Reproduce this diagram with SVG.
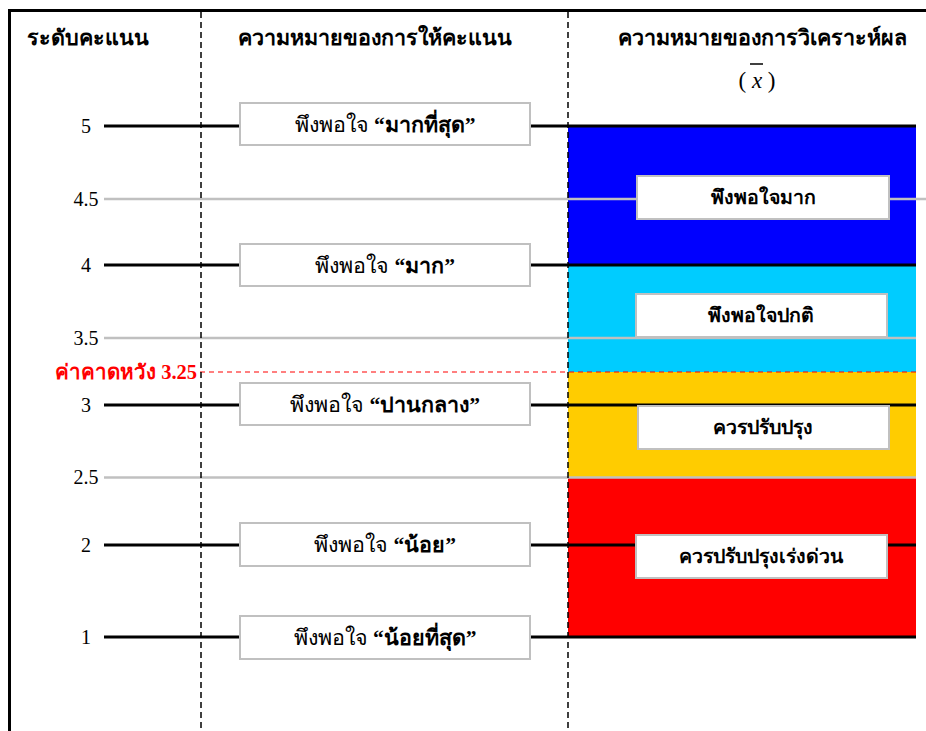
<svg xmlns="http://www.w3.org/2000/svg" width="926" height="731" viewBox="0 0 926 731">
<style>
.hdr{font-family:"Liberation Serif","Noto Sans",serif;font-weight:bold;font-size:21.5px;fill:#000;text-anchor:middle}
.num{font-family:"Liberation Serif",serif;font-size:20px;fill:#000;text-anchor:middle}
.lbl{font-family:"Liberation Serif","Noto Sans",serif;font-size:21.5px;fill:#000;text-anchor:middle}
.rlbl{font-family:"Liberation Serif","Noto Sans",serif;font-size:19.5px;font-weight:bold;fill:#000;text-anchor:middle}
.box{fill:#fff;stroke:#c0c0c0;stroke-width:2}
.blk{stroke:#000;stroke-width:3;fill:none}
.gry{stroke:#c0c0c0;stroke-width:2.5;fill:none}
.dash{stroke:#000;stroke-width:1.5;stroke-dasharray:6 4;fill:none}
.red{stroke:#ff0000;stroke-width:1.2;stroke-dasharray:5 4;fill:none}
</style>
<rect x="0" y="0" width="926" height="731" fill="#fff"/>
<g id="frame">
<line x1="8" y1="10.5" x2="926" y2="10.5" class="blk"/>
<line x1="9.5" y1="9" x2="9.5" y2="731" class="blk"/>
</g>
<g id="bands">
<rect x="568" y="126" width="348" height="139" fill="#0000ff"/>
<rect x="568" y="265" width="348" height="107" fill="#00ccff"/>
<rect x="568" y="372" width="348" height="105" fill="#ffcc00"/>
<rect x="568" y="477" width="348" height="160" fill="#ff0000"/>
</g>
<g id="connectors">
<line x1="104" y1="126" x2="916" y2="126" class="blk"/>
<line x1="104" y1="199" x2="926" y2="199" class="gry"/>
<line x1="104" y1="265" x2="916" y2="265" class="blk"/>
<line x1="104" y1="338" x2="916" y2="338" class="gry"/>
<line x1="200" y1="372" x2="916" y2="372" class="red"/>
<line x1="104" y1="405" x2="916" y2="405" class="blk"/>
<line x1="104" y1="477.5" x2="916" y2="477.5" class="gry"/>
<line x1="104" y1="545" x2="916" y2="545" class="blk"/>
<line x1="104" y1="637" x2="916" y2="637" class="blk"/>
<line x1="201" y1="12" x2="201" y2="731" class="dash"/>
<line x1="568" y1="12" x2="568" y2="731" class="dash"/>
</g>
<g id="headers">
<text x="88" y="45" class="hdr">ระดับคะแนน</text>
<text x="375" y="45" class="hdr">ความหมายของการให้คะแนน</text>
<text x="762" y="45" class="hdr">ความหมายของการวิเคราะห์ผล</text>
<text x="757" y="88" style="font-family:'Liberation Serif',serif;font-size:23px;text-anchor:middle">( <tspan font-style="italic">x</tspan> )</text>
<line x1="750" y1="64" x2="763" y2="64" stroke="#000" stroke-width="1.5"/>
</g>
<g id="scale">
<text x="86" y="133" class="num">5</text>
<text x="86" y="206" class="num">4.5</text>
<text x="86" y="272" class="num">4</text>
<text x="86" y="345" class="num">3.5</text>
<text x="197" y="379" style="font-family:'Liberation Serif','Noto Sans',serif;font-size:20.5px;font-weight:bold;fill:#ff0000;text-anchor:end">ค่าคาดหวัง 3.25</text>
<text x="86" y="412" class="num">3</text>
<text x="86" y="484" class="num">2.5</text>
<text x="86" y="552" class="num">2</text>
<text x="86" y="644" class="num">1</text>
</g>
<g id="box5"><rect x="240" y="103" width="290" height="42" class="box"/><text x="385" y="132" class="lbl">พึงพอใจ <tspan font-weight="bold">“มากที่สุด”</tspan></text></g>
<g id="box4"><rect x="240" y="244" width="290" height="42" class="box"/><text x="385" y="273" class="lbl">พึงพอใจ <tspan font-weight="bold">“มาก”</tspan></text></g>
<g id="box3"><rect x="240" y="383" width="290" height="42" class="box"/><text x="385" y="412" class="lbl">พึงพอใจ <tspan font-weight="bold">“ปานกลาง”</tspan></text></g>
<g id="box2"><rect x="240" y="523" width="290" height="43" class="box"/><text x="385" y="552" class="lbl">พึงพอใจ <tspan font-weight="bold">“น้อย”</tspan></text></g>
<g id="box1"><rect x="240" y="616" width="290" height="43" class="box"/><text x="385" y="645" class="lbl">พึงพอใจ <tspan font-weight="bold">“น้อยที่สุด”</tspan></text></g>
<g id="res-high"><rect x="637" y="176" width="252" height="43" class="box"/><text x="763" y="204" class="rlbl">พึงพอใจมาก</text></g>
<g id="res-normal"><rect x="636" y="294" width="251" height="43" class="box"/><text x="761" y="322" class="rlbl">พึงพอใจปกติ</text></g>
<g id="res-improve"><rect x="638" y="406" width="251" height="43" class="box"/><text x="763" y="434" class="rlbl">ควรปรับปรุง</text></g>
<g id="res-urgent"><rect x="636" y="535" width="251" height="43" class="box"/><text x="761" y="563" class="rlbl">ควรปรับปรุงเร่งด่วน</text></g>
</svg>
